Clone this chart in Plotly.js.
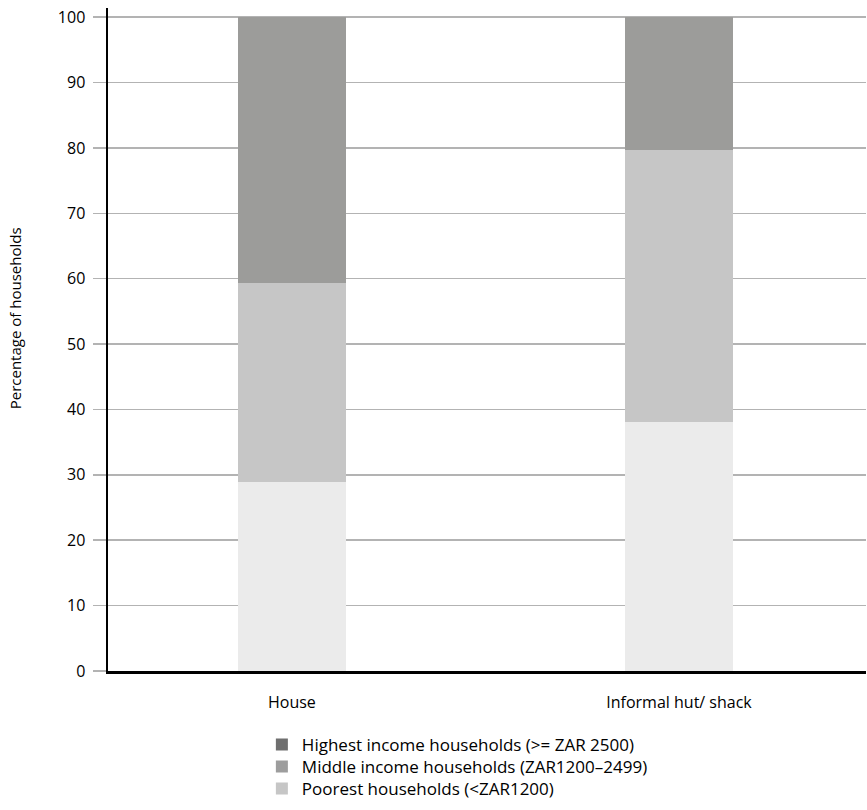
<!DOCTYPE html>
<html><head><meta charset="utf-8">
<script src="https://cdn.plot.ly/plotly-3.0.1.min.js"></script>
<style>body{margin:0;background:#fff}#c{width:867px;height:810px}</style>
</head><body><div id="c"></div>
<script>
const categories = ["House", "Informal hut/ shack"];
const poorest = [28.9, 38.1];
const middle = [30.4, 41.6];
const highest = [40.7, 20.3];
const seriesNames = ["Highest income households (>= ZAR 2500)", "Middle income households (ZAR1200\u20132499)", "Poorest households (<ZAR1200)"];
const yTicks = [0,10,20,30,40,50,60,70,80,90,100];
const yTitle = "Percentage of households";

const barColors = {poor:"#ebebeb", mid:"#c6c6c6", high:"#9c9c9a"};
const legendColors = ["#6f6f6f", "#9d9d9d", "#c6c6c6"];

const bw = 0.279;
const traces = [
  {type:"bar", x:categories, y:poorest, marker:{color:barColors.poor}, width:bw, showlegend:false, name:seriesNames[2]},
  {type:"bar", x:categories, y:middle, marker:{color:barColors.mid}, width:bw, showlegend:false, name:seriesNames[1]},
  {type:"bar", x:categories, y:highest, marker:{color:barColors.high}, width:bw, showlegend:false, name:seriesNames[0]},
  {type:"bar", x:[null], y:[null], marker:{color:legendColors[0]}, name:seriesNames[0], showlegend:true, legend:"legend"},
  {type:"bar", x:[null], y:[null], marker:{color:legendColors[1]}, name:seriesNames[1], showlegend:true, legend:"legend2"},
  {type:"bar", x:[null], y:[null], marker:{color:legendColors[2]}, name:seriesNames[2], showlegend:true, legend:"legend3"}
];

const legBase = {x:0.203, xanchor:"left", yanchor:"middle", font:{size:17}, bgcolor:"rgba(0,0,0,0)"};
const layout = {
  width:867, height:810,
  margin:{l:108, r:1, t:8, b:139, autoexpand:false},
  barmode:"stack",
  paper_bgcolor:"#fff", plot_bgcolor:"#fff",
  font:{family:"Open Sans, Noto Sans, sans-serif", color:"#000", size:16},
  xaxis:{type:"category", range:[-0.475, 1.483], showgrid:false, zeroline:false,
    showline:true, linecolor:"#000", linewidth:2.5, ticks:"", tickfont:{size:16}, ticklabelstandoff:15},
  yaxis:{range:[0, 101.4], tickvals:yTicks, ticktext:yTicks.map(String), showgrid:true,
    gridcolor:"#b3b3b3", gridwidth:1.5, zeroline:false, showline:true, linecolor:"#000", linewidth:2.5,
    ticks:"outside", ticklen:13, tickcolor:"#b3b3b3", tickwidth:1.5, tickfont:{size:16}, ticklabelstandoff:4},
  annotations:[{text:yTitle, textangle:-90, xref:"paper", yref:"paper", x:-0.1227, y:0.532,
    xanchor:"center", yanchor:"middle", showarrow:false, font:{size:15}}],
  showlegend:true,
  legend:Object.assign({}, legBase, {y:-0.1116}),
  legend2:Object.assign({}, legBase, {y:-0.1448}),
  legend3:Object.assign({}, legBase, {y:-0.178})
};
Plotly.newPlot("c", traces, layout, {displayModeBar:false, staticPlot:true});
</script></body></html>
